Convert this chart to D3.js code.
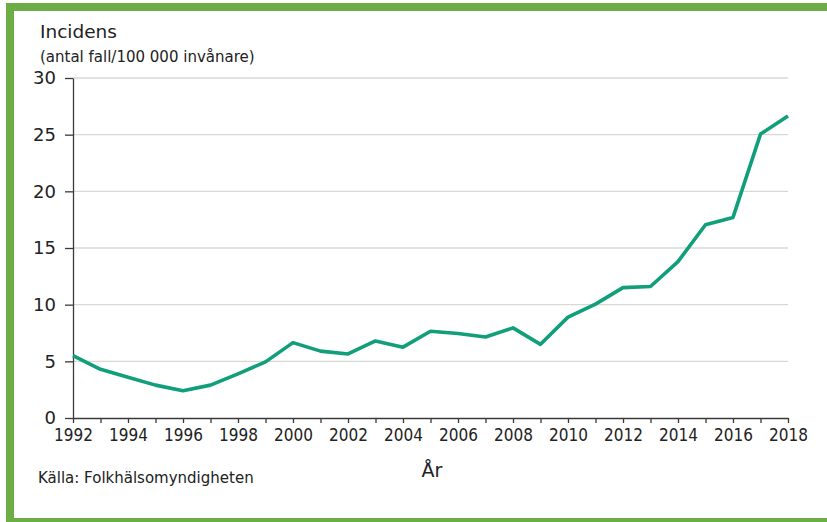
<!DOCTYPE html>
<html>
<head>
<meta charset="utf-8">
<script src="https://cdn.jsdelivr.net/npm/d3@7"></script>
<style>
    body { margin: 0; background: #fff; }
    svg text { font-family: "DejaVu Sans Condensed", "Liberation Sans", sans-serif; fill: #222; }
    svg text.label { font-family: "DejaVu Sans", sans-serif; }
</style>
</head>
<body>
<svg id="chart" width="827" height="522"></svg>
<script>
const years = [1992, 1993, 1994, 1995, 1996, 1997, 1998, 1999, 2000, 2001, 2002, 2003, 2004, 2005,
    2006, 2007, 2008, 2009, 2010, 2011, 2012, 2013, 2014, 2015, 2016, 2017, 2018];
const incidence = [5.5, 4.3, 3.6, 2.9, 2.4, 2.9, 3.9, 4.95, 6.65, 5.9, 5.65, 6.8, 6.25, 7.65,
    7.45, 7.15, 7.95, 6.5, 8.9, 10.05, 11.5, 11.6, 13.8, 17.05, 17.7, 25.05, 26.65];
const yTicks = [0, 5, 10, 15, 20, 25, 30];
const xLabelYears = [1992, 1994, 1996, 1998, 2000, 2002, 2004, 2006, 2008, 2010, 2012, 2014, 2016, 2018];

const width = 827, height = 522;
const marginLeft = 73, marginRight = 39, marginTop = 78, marginBottom = 104;

const svg = d3.select("#chart");

// green frame, right side runs off the picture
svg.append("rect")
    .attr("x", 10)
    .attr("y", 7)
    .attr("width", 900)
    .attr("height", 515)
    .attr("fill", "#fff")
    .attr("stroke", "#6cad45")
    .attr("stroke-width", 8);

const x = d3.scaleLinear()
    .domain([1992, 2018])
    .range([marginLeft, width - marginRight]);

const y = d3.scaleLinear()
    .domain([0, 30])
    .range([height - marginBottom, marginTop]);

// gridlines
svg.append("g")
    .selectAll("line")
    .data(yTicks.filter(d => d > 0))
    .enter()
    .append("line")
    .attr("x1", x(1992))
    .attr("x2", x(2018))
    .attr("y1", d => y(d))
    .attr("y2", d => y(d))
    .attr("stroke", "#d6dad3")
    .attr("stroke-width", 1.3);

// y axis
const yAxis = svg.append("g")
    .attr("transform", `translate(${marginLeft},0)`)
    .call(d3.axisLeft(y).tickValues(yTicks).tickSize(8).tickPadding(9).tickSizeOuter(0));
yAxis.selectAll("text").attr("class", "label").attr("font-size", "18px");

// x axis, a tick for every year and a label for every second
const xAxis = svg.append("g")
    .attr("transform", `translate(0,${height - marginBottom})`)
    .call(d3.axisBottom(x).tickValues(years).tickSize(5).tickPadding(4).tickSizeOuter(0)
        .tickFormat(d => xLabelYears.includes(d) ? d : ""));
xAxis.selectAll("text").attr("font-size", "17px").attr("dy", "0.8em");

svg.selectAll(".domain, .tick line")
    .attr("stroke", "#3a3a3a")
    .attr("stroke-width", 1.3);

// data line
const line = d3.line()
    .x((d, i) => x(years[i]))
    .y(d => y(d));

svg.append("path")
    .datum(incidence)
    .attr("d", line)
    .attr("fill", "none")
    .attr("stroke", "#119f7b")
    .attr("stroke-width", 3.6)
    .attr("stroke-linejoin", "round");

// titles
svg.append("text")
    .attr("class", "label")
    .attr("x", 40)
    .attr("y", 38)
    .attr("font-size", "18.5px")
    .text("Incidens");

svg.append("text")
    .attr("class", "label")
    .attr("x", 40)
    .attr("y", 62)
    .attr("font-size", "15px")
    .text("(antal fall/100 000 invånare)");

svg.append("text")
    .attr("class", "label")
    .attr("x", 432)
    .attr("y", 477)
    .attr("text-anchor", "middle")
    .attr("font-size", "19px")
    .text("År");

svg.append("text")
    .attr("class", "label")
    .attr("x", 38)
    .attr("y", 483)
    .attr("font-size", "15px")
    .text("Källa: Folkhälsomyndigheten");
</script>
</body>
</html>
